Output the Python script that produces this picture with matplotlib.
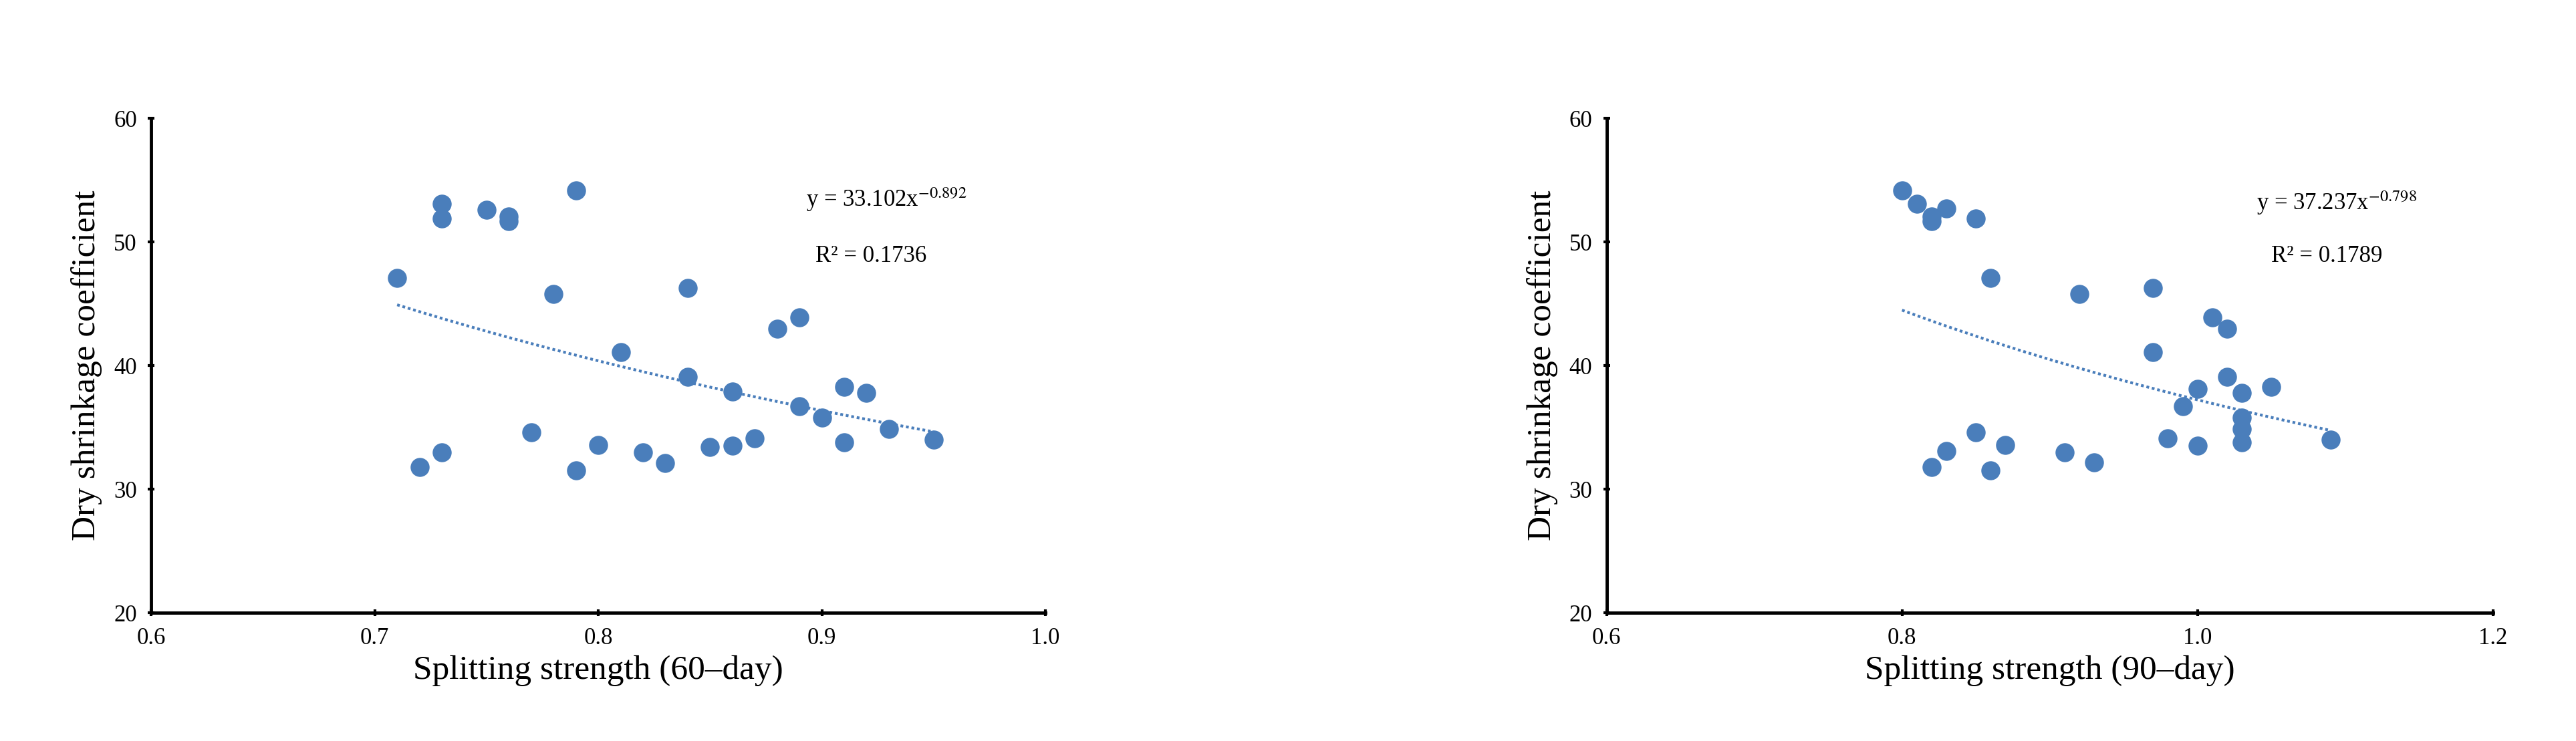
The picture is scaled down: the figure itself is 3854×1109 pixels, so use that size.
import numpy as np
import matplotlib
matplotlib.use("Agg")
import matplotlib.pyplot as plt

x60 = [0.71,0.72,0.73,0.73,0.73,0.75,0.76,0.76,0.77,0.78,0.79,0.79,0.80,0.81,0.82,0.83,0.84,0.84,0.85,0.86,0.86,0.87,0.88,0.89,0.89,0.90,0.91,0.91,0.92,0.93,0.95]
y60 = [47.1,31.8,53.1,51.9,33.0,52.6,52.1,51.7,34.6,45.8,54.2,31.5,33.6,41.1,33.0,32.1,46.3,39.1,33.4,37.9,33.5,34.1,43.0,43.9,36.7,35.8,38.3,33.8,37.8,34.9,34.0]
x90 = [0.80,0.81,0.82,0.82,0.83,0.85,0.86,0.92,0.97,0.97,1.01,1.02,1.02,1.00,1.03,1.05,0.99,1.03,1.03,1.03,0.98,1.00,1.09,0.85,0.83,0.87,0.82,0.86,0.91,0.93]
y90 = [54.2,53.1,52.1,51.7,52.7,51.9,47.1,45.8,46.3,41.1,43.9,43.0,39.1,38.1,37.8,38.3,36.7,35.8,34.9,33.8,34.1,33.5,34.0,34.6,33.1,33.6,31.8,31.5,33.0,32.2]
fit60 = (33.102, -0.892, "0.1736")
fit90 = (37.237, -0.798, "0.1789")
xlabels = ["Splitting strength (60\u2013day)", "Splitting strength (90\u2013day)"]
ylabel = "Dry shrinkage coefficient"

plt.rcParams['font.family'] = ['Liberation Serif', 'DejaVu Serif']
plt.rcParams['mathtext.fontset'] = 'stix'
fig = plt.figure(figsize=(38.55, 11.09), dpi=100)
specs = [
    (x60, y60, fit60, xlabels[0], [0.0587, 0.173, 0.347, 0.667], (0.6, 1.0), [0.6,0.7,0.8,0.9,1.0], (0.893, 52.9), (0.897, 48.4)),
    (x90, y90, fit90, xlabels[1], [0.6235, 0.173, 0.344, 0.667], (0.6, 1.2), [0.6,0.8,1.0,1.2], (1.04, 52.6), (1.05, 48.4)),
]
color = '#4a7ebb'
for xs, ys, (a, b, r2), xl, rect, xlim, xt, eqpos, r2pos in specs:
    ax = fig.add_axes(rect)
    ax.scatter(xs, ys, s=420, color=color, zorder=3, linewidths=0)
    xx = np.linspace(min(xs), max(xs), 100)
    ax.plot(xx, a * xx ** b, linestyle=(0, (1, 1)), color=color, lw=3)
    ax.set_xlim(*xlim); ax.set_ylim(20, 60)
    ax.set_xticks(xt); ax.set_xticklabels([f"{v:.1f}" for v in xt])
    ax.set_yticks([20, 30, 40, 50, 60])
    for s in ['top', 'right']:
        ax.spines[s].set_visible(False)
    for s in ['left', 'bottom']:
        ax.spines[s].set_linewidth(3.5)
    ax.tick_params(labelsize=25, width=3, length=7, direction='inout', pad=12)
    ax.set_xlabel(xl, fontsize=37, labelpad=6)
    ax.set_ylabel(ylabel, fontsize=37, labelpad=12)
    ax.text(*eqpos, f"y = {a:.3f}x$^{{\\mathrm{{{b:.3f}}}}}$", fontsize=25)
    ax.text(*r2pos, f"R\u00b2 = {r2}", fontsize=25)
fig.savefig("out.png", dpi=100)
